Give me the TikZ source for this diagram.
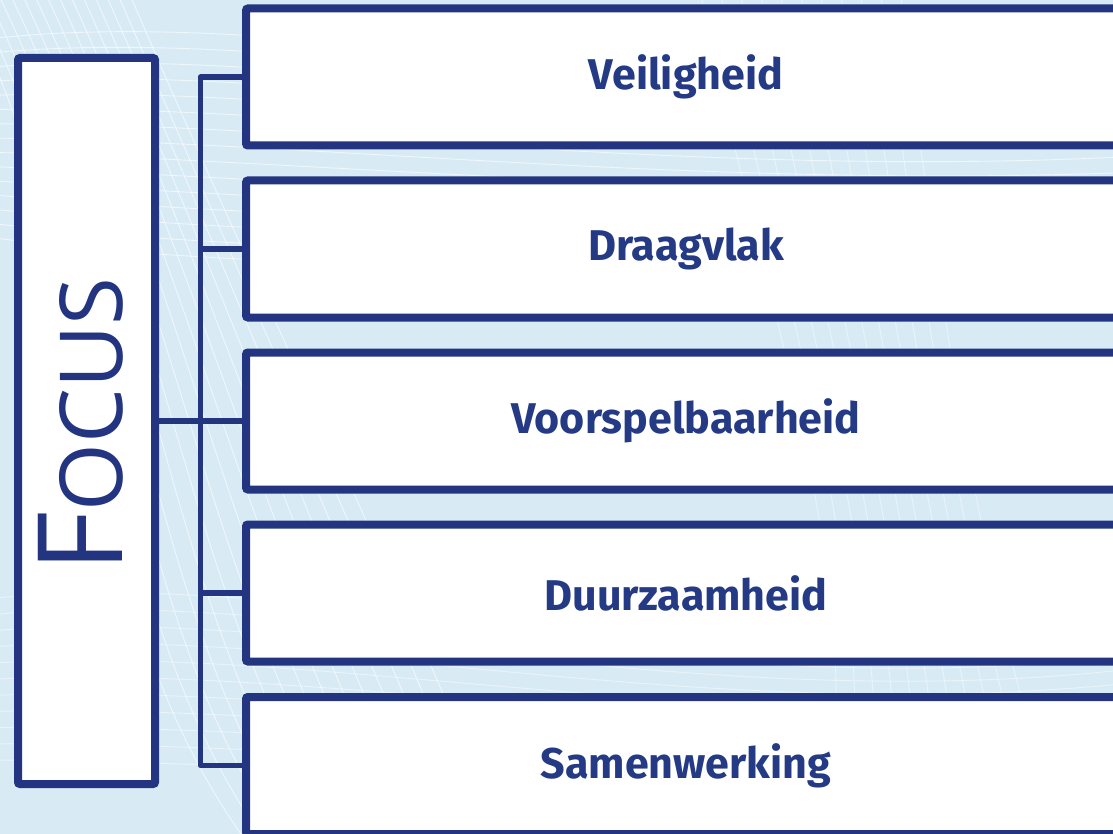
\documentclass[tikz,border=0pt]{standalone}
\usepackage{fontspec}
\setmainfont{Fira Sans}
\newfontfamily\boxfont{Fira Sans}
\newfontfamily\focusfont{Open Sans}
\definecolor{navy}{RGB}{35,53,128}
\definecolor{txtnavy}{RGB}{36,58,132}
\definecolor{bgblue}{RGB}{216,235,245}
\tikzset{
  itembox/.style={draw=navy, line width=8pt, fill=white, rounded corners=2pt,
    minimum width=880pt, minimum height=137pt, outer sep=0pt, inner sep=0pt,
    font=\boxfont\bfseries\fontsize{43}{50}\selectfont, text=txtnavy},
  focusbox/.style={draw=navy, line width=8pt, fill=white, rounded corners=2pt,
    minimum width=137pt, minimum height=726pt, outer sep=0pt, inner sep=0pt},
  conn/.style={draw=navy, line width=5.5pt, line join=round},
  bgline/.style={white, opacity=0.6, line width=0.9pt}
}
\begin{document}
\begin{tikzpicture}[x=1pt, y=-1pt]
\useasboundingbox (0,0) rectangle (1113,834);
\clip (0,0) rectangle (1113,834);
\fill[bgblue] (0,0) rectangle (1113,834);
% background pattern
\foreach \i in {0,...,14}{
  \draw[bgline] (-40+\i*12, -10) .. controls (120+\i*10, 300) and (60+\i*25, 600) .. (260+\i*18, 860);
  \draw[bgline] (-20, 40+\i*14) .. controls (300, 0+\i*20) and (700, 120+\i*10) .. (1140, 60+\i*16);
}
\foreach \i in {0,...,10}{
  \draw[bgline, opacity=0.45] (700+\i*20, -10) .. controls (760+\i*18, 300) and (880+\i*10, 600) .. (820+\i*25, 860);
  \draw[bgline, opacity=0.45] (-20, 600+\i*16) .. controls (300, 560+\i*20) and (700, 700+\i*10) .. (1140, 640+\i*14);
}
% boxes
\node[focusbox] (focus) at (86.5,421) {};
\node[anchor=base, rotate=90, text=navy, inner sep=0pt]
  (focustxt) at (122,425) {\focusfont\fontsize{118}{118}\selectfont F\fontsize{87}{87}\selectfont OCUS};
\node[itembox] (b1) at (686,77) {Veiligheid};
\node[itembox] (b2) at (686,249) {Draagvlak};
\node[itembox] (b3) at (686,421) {Voorspelbaarheid};
\node[itembox] (b4) at (686,593) {Duurzaamheid};
\node[itembox] (b5) at (686,765.5) {Samenwerking};
% connectors
\coordinate (spine) at (200.5,421);
\draw[conn] (b1.west) -| (spine) |- (b5.west);
\draw[conn] (focus.east) -- (spine) -- (b3.west);
\draw[conn] (b2.west) -- (b2.west -| spine);
\draw[conn] (b4.west) -- (b4.west -| spine);
\end{tikzpicture}
\end{document}
